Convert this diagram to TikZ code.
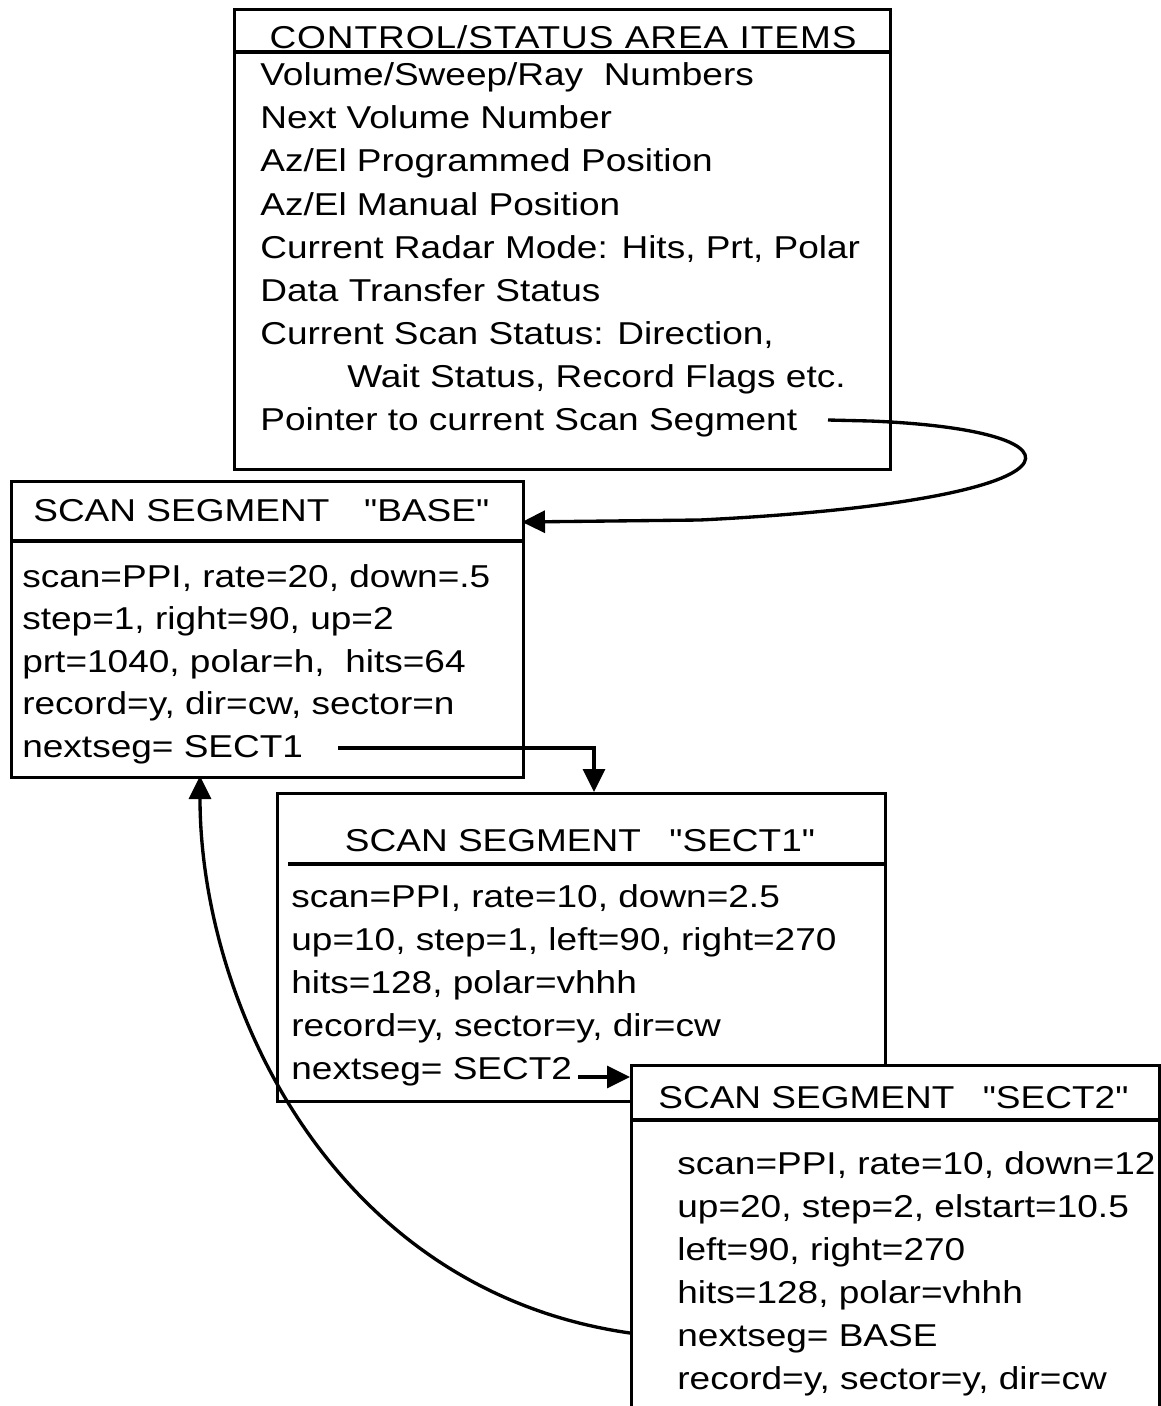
\documentclass[tikz,border=0pt]{standalone}
\usepackage{fontspec}
\setmainfont{Liberation Sans}[FakeStretch=1.17, Ligatures=TeXOff]
\usetikzlibrary{arrows.meta}

\tikzset{
  segbox/.style={draw, line width=1.9pt, fill=white, anchor=north west, inner sep=0pt},
  rule/.style={line width=1.9pt},
  txt/.style={font=\fontsize{18}{22}\selectfont, inner sep=0pt, anchor=base west},
  conn/.style={line width=1.9pt, -{Triangle[length=0.46cm,width=0.44cm]}}
}

\begin{document}
\begin{tikzpicture}[x=0.02cm, y=-0.02cm]
  \useasboundingbox (0,0) rectangle (1160,1406);

  % control / status area
  \node[segbox, minimum width=13.12cm, minimum height=9.2cm] (ctrl) at (233,8) {};
  \draw[rule] (233,52) -- (889,52);
  \node[txt, anchor=base, font=\fontsize{18}{22}\selectfont\addfontfeature{LetterSpace=3}] (ctrl-title) at (563,49) {CONTROL/STATUS AREA ITEMS};
  \foreach \t [count=\i from 0] in {
      {Volume/Sweep/Ray\ \ Numbers},
      {Next Volume Number},
      {Az/El Programmed Position},
      {Az/El Manual Position},
      {Current Radar Mode: Hits, Prt, Polar},
      {Data Transfer Status},
      {Current Scan Status: Direction,},
      {\hspace*{1.74cm}Wait Status, Record Flags etc.},
      {Pointer to current Scan Segment}}
    \node[txt] (ctrl-\i) at (260,{86+43*\i}) {\t};

  % segment BASE
  \node[segbox, minimum width=10.24cm, minimum height=5.92cm] (base) at (10,480) {};
  \draw[rule] (10,541) -- (522,541);
  \node[txt] (base-title) at (33,521) {SCAN SEGMENT\hspace{1.1em}"BASE"};
  \foreach \t [count=\i from 0] in {
      {scan=PPI, rate=20, down=.5},
      {step=1, right=90, up=2},
      {prt=1040, polar=h,\ \ hits=64},
      {record=y, dir=cw, sector=n},
      {nextseg= SECT1}}
    \node[txt] (base-\i) at (22,{587+42.5*\i}) {\t};

  % segment SECT1
  \node[segbox, minimum width=12.16cm, minimum height=6.16cm] (sect1) at (276,792) {};
  \draw[rule] (288,864) -- (884,864);
  \node[txt, anchor=base] (sect1-title) at (580,851) {SCAN SEGMENT\hspace{0.9em}"SECT1"};
  \foreach \t [count=\i from 0] in {
      {scan=PPI, rate=10, down=2.5},
      {up=10, step=1, left=90, right=270},
      {hits=128, polar=vhhh},
      {record=y, sector=y, dir=cw},
      {nextseg= SECT2}}
    \node[txt] (sect1-\i) at (291,{907+43*\i}) {\t};

  % segment SECT2
  \node[segbox, minimum width=10.56cm, minimum height=7.2cm] (sect2) at (630,1064) {};
  \draw[rule] (630,1120) -- (1160,1120);
  \node[txt] (sect2-title) at (658,1108) {SCAN SEGMENT\hspace{0.9em}"SECT2"};
  \foreach \t [count=\i from 0] in {
      {scan=PPI, rate=10, down=12},
      {up=20, step=2, elstart=10.5},
      {left=90, right=270},
      {hits=128, polar=vhhh},
      {nextseg= BASE},
      {record=y, sector=y, dir=cw}}
    \node[txt] (sect2-\i) at (677,{1174+43*\i}) {\t};

  % pointers
  \coordinate (ptr) at (828,420);
  \coordinate (base-in) at (522,522);
  \draw[conn] (ptr) -- (870,421) .. controls (1100,430) and (1100,500) .. (700,520) -- (base-in);

  \coordinate (base-out) at (338,748);
  \coordinate (sect1-in) at (594,792);
  \draw[conn] (base-out) -| (sect1-in);

  \coordinate (sect1-out) at (578,1077);
  \draw[conn] (sect1-out) -- (sect1-out -| sect2.west);

  \coordinate (sect2-out) at (630,1333);
  \coordinate (base-back) at (200,776);
  \draw[conn] (sect2-out) .. controls (330,1290) and (200,1000) .. (base-back);
\end{tikzpicture}
\end{document}
